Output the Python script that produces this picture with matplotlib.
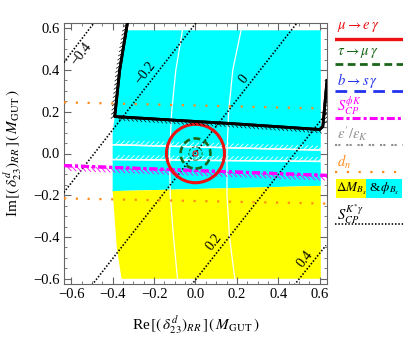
"""Allowed regions in the (Re, Im) plane of (delta_23^d)_RR with constraint curves."""

import matplotlib

matplotlib.use("Agg")
import matplotlib.pyplot as plt  # noqa: E402
import matplotlib.patheffects as pe  # noqa: E402
from matplotlib.patches import Circle, Polygon, Rectangle  # noqa: E402
from matplotlib.ticker import MultipleLocator  # noqa: E402

plt.rcParams["font.family"] = ["Liberation Serif", "DejaVu Serif"]
plt.rcParams["mathtext.fontset"] = "stix"
plt.rcParams["axes.unicode_minus"] = True

# --- data ----------------------------------------------------------------
# Delta M_Bs & phi_Bs allowed regions
cyan_x = [-0.40, -0.40, -0.39, -0.365, -0.335, 0.605, 0.605]
cyan_y = [-0.18, 0.10, 0.18, 0.40, 0.59, 0.59, -0.155]
yellow_x = [-0.40, -0.38, -0.357, 0.605, 0.605]
yellow_y = [-0.18, -0.45, -0.60, -0.60, -0.155]

# white boundary curves inside the allowed region
white_y = [-0.60, -0.40, -0.20, 0.0, 0.20, 0.40, 0.59]
white_a_x = [-0.087, -0.106, -0.122, -0.125, -0.115, -0.095, -0.063]
white_b_x = [0.19, 0.164, 0.152, 0.152, 0.16, 0.18, 0.22]
white_h_x = [-0.40, 0.605]
white_h1_y = [0.042, 0.016]
white_h2_y = [-0.029, -0.038]

# S_CP^{phi K} bound (thick black, hatched)
scp_x = [-0.328, -0.366, -0.39, -0.077, 0.164, 0.60, 0.615, 0.635]
scp_y = [0.63, 0.40, 0.177, 0.158, 0.144, 0.115, 0.13, 0.35]

# S_CP^{phi K} (magenta) and d_n (orange) bounds
mag_x = [-0.635, 0.635]
mag_y = [-0.058, -0.105]
dn_x = [-0.635, 0.635]
dn_up_y = [0.245, 0.215]
dn_lo_y = [-0.215, -0.24]

# LFV circles: radii around the origin
mueg_r = [0.14, 0.012]
taumug_r = [0.072, 0.032]

# S_CP^{K* gamma} contours
skg_labels = ["\u22120.4", "\u22120.2", "0", "0.2", "0.4"]
skg_x = [[-0.636, -0.487], [-0.636, 0.006], [-0.50, 0.49], [-0.02, 0.63], [0.477, 0.63]]
skg_y = [[0.436, 0.63], [-0.187, 0.63], [-0.63, 0.625], [-0.63, 0.19], [-0.63, -0.44]]
skg_lab_x = [-0.55, -0.24, 0.235, 0.09, 0.53]
skg_lab_y = [0.475, 0.384, 0.358, -0.425, -0.505]

RED = "#ee1111"
GREEN = "#1a661a"
BLUE = "#2233ee"
MAGENTA = "#ff00ff"
GRAY = "#8c8c8c"
ORANGE = "#ff8c1a"

fig = plt.figure(figsize=(4.06, 3.43), dpi=100)
ax = fig.add_axes([64 / 406, 59 / 343, 263 / 406, 261 / 343])

ax.add_patch(Polygon(list(zip(cyan_x, cyan_y)), closed=True, fc="#00ffff", ec="none", zorder=1))
ax.add_patch(Polygon(list(zip(yellow_x, yellow_y)), closed=True, fc="#ffff00", ec="none", zorder=1.1))

for wx in (white_a_x, white_b_x):
    ax.plot(wx, white_y, color="white", lw=0.9, zorder=2)
for wy in (white_h1_y, white_h2_y):
    ax.plot(white_h_x, wy, color="white", lw=1.0, zorder=2,
            path_effects=[pe.withTickedStroke(angle=45, spacing=3.5, length=1.2, linewidth=0.6),
                          pe.Normal()])

for sx, sy in zip(skg_x, skg_y):
    ax.plot(sx, sy, color="black", lw=1.2, dashes=(0.9, 1.1), zorder=3)
for lab, lx, ly in zip(skg_labels, skg_lab_x, skg_lab_y):
    ax.text(lx, ly, lab, rotation=52, ha="center", va="center", fontsize=10, zorder=3)

for dy in (dn_up_y, dn_lo_y):
    ax.plot(dn_x, dy, color=ORANGE, lw=1.6, dashes=(1, 4.3), zorder=3)

ax.plot(mag_x, mag_y, color=MAGENTA, lw=2.2, dashes=(2.6, 1, 1, 1), zorder=3,
        path_effects=[pe.withTickedStroke(angle=-45, spacing=3.5, length=1.5, linewidth=0.6),
                      pe.Normal()])

ax.add_patch(Circle((0, 0), mueg_r[0], fill=False, ec=RED, lw=2.2, zorder=4))
ax.add_patch(Circle((0, 0), mueg_r[1], fill=False, ec=RED, lw=0.8, zorder=4))
ax.add_patch(Circle((0, 0), taumug_r[0], fill=False, ec=GREEN, lw=1.9, ls=(0, (2.6, 1.4)), zorder=4))
ax.add_patch(Circle((0, 0), taumug_r[1], fill=False, ec=GREEN, lw=0.7, ls=(0, (3, 1.5)), zorder=4))

ax.plot(scp_x, scp_y, color="black", lw=2.0, zorder=5, solid_joinstyle="round",
        path_effects=[pe.withTickedStroke(angle=-45, spacing=3.0, length=1.2, linewidth=0.5),
                      pe.Normal()])

ax.set_xlim(-0.635, 0.635)
ax.set_ylim(-0.625, 0.625)
ax.xaxis.set_major_locator(MultipleLocator(0.2))
ax.yaxis.set_major_locator(MultipleLocator(0.2))
ax.xaxis.set_minor_locator(MultipleLocator(0.05))
ax.yaxis.set_minor_locator(MultipleLocator(0.05))
ax.tick_params(which="both", direction="in", top=True, right=True, color="#666666",
               labelsize=10.5, pad=3)
ax.tick_params(which="major", length=5)
ax.tick_params(which="minor", length=2.5)
for sp in ax.spines.values():
    sp.set_color("#666666")
    sp.set_linewidth(0.8)

ax.set_xlabel(r"Re$\,[(\,\delta^{d}_{23})_{RR}\,]\,(\,M_{\rm GUT}\,)$", fontsize=11, labelpad=9)
ax.set_ylabel(r"Im$\,[(\,\delta^{d}_{23})_{RR}\,]\,(\,M_{\rm GUT}\,)$", fontsize=11, labelpad=7)

# legend panel
lax = fig.add_axes([335 / 406, 0, 68 / 406, 1])
lax.set_xlim(0, 1)
lax.set_ylim(343, 0)
lax.axis("off")

entries = [
    (r"$\mu \rightarrow e\,\gamma$", RED, dict(lw=2.4), 27, 39),
    (r"$\tau \rightarrow \mu\,\gamma$", GREEN, dict(lw=2.0, dashes=(2.8, 1.6)), 53, 64),
    (r"$b \rightarrow s\,\gamma$", BLUE, dict(lw=2.0, dashes=(4.2, 2.6)), 80, 91),
    (r"$S_{CP}^{\phi K}$", MAGENTA, dict(lw=2.2, dashes=(2.6, 1, 1, 1)), 106, 118),
    (r"$\epsilon'/\epsilon_K$", GRAY, dict(lw=1.5, dashes=(1, 0.6, 1, 2.8)), 134, 145),
    (r"$d_n$", ORANGE, dict(lw=1.6, dashes=(1, 4.3)), 162, 172),
    (r"$S_{CP}^{K^{*}\gamma}$", "black", dict(lw=1.2, dashes=(0.9, 1.1)), 214, 224),
]
for txt, col, style, ty, ly in entries:
    lax.text(0.03, ty, txt, color=col, fontsize=10.5, ha="left", va="center")
    lax.plot([0.0, 1.0], [ly, ly], color=col, **style)

lax.add_patch(Rectangle((0.01, 179), 0.45, 19, fc="#ffff00", ec="none"))
lax.add_patch(Rectangle((0.46, 179), 0.53, 19, fc="#00ffff", ec="none"))
lax.text(0.02, 189, r"$\Delta M_{B_s}$", fontsize=9.5, ha="left", va="center")
lax.text(0.50, 189, r"&$\,\phi_{B_s}$", fontsize=9.5, ha="left", va="center")

fig.savefig("out.png", dpi=100)
